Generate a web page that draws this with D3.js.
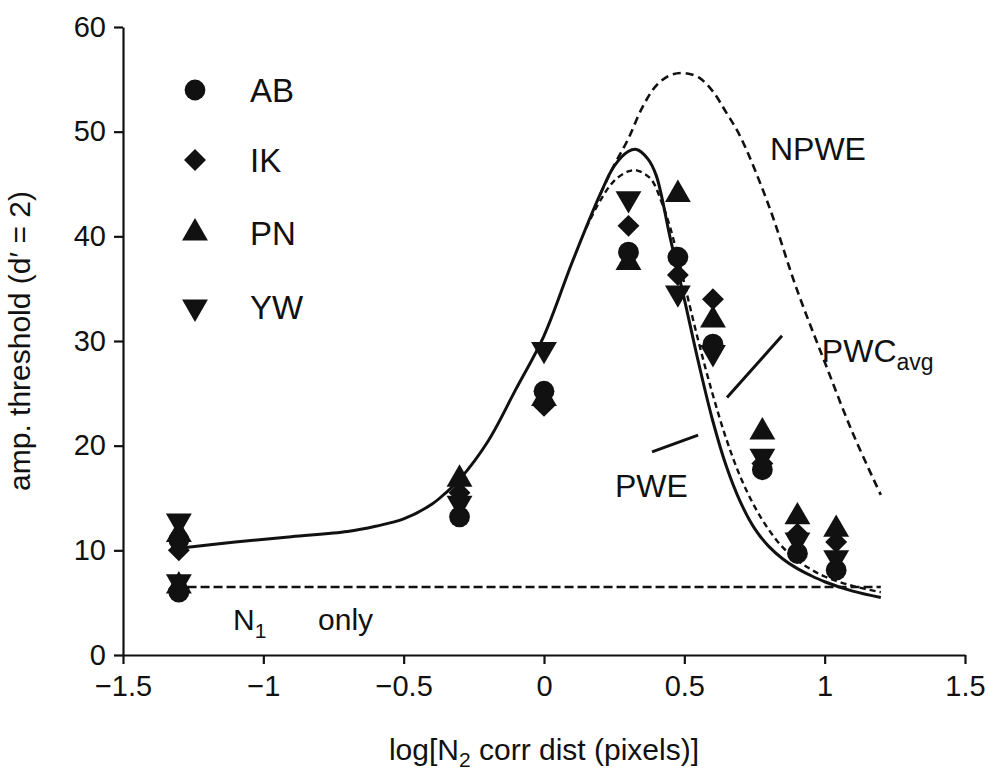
<!DOCTYPE html>
<html>
<head>
<meta charset="utf-8">
<script src="https://cdn.jsdelivr.net/npm/d3@7"></script>
<style>
  html, body { margin: 0; padding: 0; background: #fff; }
  svg { display: block; }
  text { font-family: "Liberation Sans", Arial, sans-serif; fill: #111; }
</style>
</head>
<body>
<svg id="chart" width="988" height="782"></svg>
<script>
// ---------- data ----------
const xPositions = [-1.301, -0.301, 0, 0.301, 0.477, 0.602, 0.778, 0.903, 1.041];
const seriesNames = ["AB", "IK", "PN", "YW"];
const abValues = [11.0, 13.2, 25.2, 38.5, 38.0, 29.7, 17.7, 9.7, 8.1];
const ikValues = [10.0, 15.5, 23.8, 41.0, 36.3, 34.0, 18.3, 11.6, 10.8];
const pnValues = [11.5, 16.8, 24.5, 37.5, 44.0, 32.0, 21.3, 13.2, 12.0];
const ywValues = [12.8, 14.5, 29.2, 43.6, 34.6, 28.9, 19.0, 11.0, 9.3];
// N1-only measurements (at the smallest correlation distance)
const n1OnlyX = -1.301;
const n1OnlyValues = [6.0, 6.3, 6.6, 7.0]; // AB, IK, PN, YW
const n1OnlyLevel = 6.5;
const n1LineRange = [-1.27, 1.2];

// model curves
const pweX = [-1.3, -1.1, -0.9, -0.7, -0.6, -0.5, -0.4, -0.35, -0.3, -0.2, -0.1, 0, 0.1, 0.2, 0.25, 0.3, 0.33, 0.37, 0.4, 0.45, 0.5, 0.55, 0.6, 0.65, 0.7, 0.75, 0.8, 0.85, 0.9, 0.95, 1.0, 1.1, 1.2];
const pweY = [10.2, 10.8, 11.3, 11.8, 12.3, 13.0, 14.4, 15.5, 16.8, 20.4, 25.4, 30.5, 37.5, 44.0, 46.7, 48.1, 48.3, 47.4, 45.8, 39.8, 34.0, 28.0, 22.5, 18.0, 14.6, 12.1, 10.4, 9.2, 8.3, 7.6, 7.0, 6.1, 5.5];
const pwcX = [0.15, 0.2, 0.25, 0.3, 0.33, 0.38, 0.42, 0.45, 0.5, 0.55, 0.6, 0.65, 0.7, 0.75, 0.8, 0.85, 0.9, 0.95, 1.0, 1.1, 1.2];
const pwcY = [40.8, 43.4, 45.3, 46.2, 46.3, 45.5, 43.2, 40.8, 35.5, 30.0, 25.0, 20.6, 17.0, 14.2, 12.0, 10.3, 9.1, 8.2, 7.5, 6.6, 6.0];
const npweX = [0.2, 0.25, 0.3, 0.35, 0.4, 0.45, 0.5, 0.55, 0.6, 0.65, 0.7, 0.8, 0.9, 1.0, 1.1, 1.2];
const npweY = [44.0, 46.8, 49.3, 52.3, 54.4, 55.4, 55.6, 55.2, 53.9, 51.8, 49.5, 43.0, 35.0, 28.0, 21.2, 15.3];

const xTicks = [-1.5, -1, -0.5, 0, 0.5, 1, 1.5];
const yTicks = [0, 10, 20, 30, 40, 50, 60];

// ---------- layout ----------
const svg = d3.select("#chart");
const x = d3.scaleLinear().domain([-1.5, 1.5]).range([123, 965]);
const y = d3.scaleLinear().domain([0, 60]).range([655, 27]);

const fmtX = v => (v < 0 ? "\u2212" : "") + Math.abs(v);

// axes
const xAxis = d3.axisBottom(x).tickValues(xTicks).tickFormat(fmtX).tickSizeInner(9).tickSizeOuter(0).tickPadding(11);
const yAxis = d3.axisLeft(y).tickValues(yTicks).tickFormat(d3.format("d")).tickSizeInner(9).tickSizeOuter(0).tickPadding(8);

const gx = svg.append("g").attr("transform", `translate(0,${y(0)})`).call(xAxis);
const gy = svg.append("g").attr("transform", `translate(${x(-1.5)},0)`).call(yAxis);
[gx, gy].forEach(g => {
  g.select(".domain").attr("stroke", "#111").attr("stroke-width", 2.2);
  g.selectAll(".tick line").attr("stroke", "#111").attr("stroke-width", 2.2);
  g.selectAll(".tick text").attr("font-size", 29).attr("font-family", "Liberation Sans, Arial, sans-serif").attr("fill", "#111");
});

// axis titles
const xt = svg.append("text").attr("x", x(0)).attr("y", 760).attr("text-anchor", "middle").attr("font-size", 30);
xt.append("tspan").text("log[N");
xt.append("tspan").attr("font-size", 21).attr("dy", 7).text("2");
xt.append("tspan").attr("dy", -7).text(" corr dist (pixels)]");

svg.append("text").attr("transform", `translate(30,${y(30)}) rotate(-90)`)
  .attr("text-anchor", "middle").attr("font-size", 30).text("amp. threshold (d\u2032 = 2)");

// ---------- curves ----------
const line = d3.line().x(d => x(d[0])).y(d => y(d[1])).curve(d3.curveCatmullRom.alpha(0.5));

svg.append("path").datum(npweX.map((v, i) => [v, npweY[i]]))
  .attr("d", line).attr("fill", "none").attr("stroke", "#111").attr("stroke-width", 2.6).attr("stroke-dasharray", "8,5");
svg.append("path").datum(pwcX.map((v, i) => [v, pwcY[i]]))
  .attr("d", line).attr("fill", "none").attr("stroke", "#111").attr("stroke-width", 2.4).attr("stroke-dasharray", "6,4");
svg.append("path").datum(pweX.map((v, i) => [v, pweY[i]]))
  .attr("d", line).attr("fill", "none").attr("stroke", "#111").attr("stroke-width", 3);

// N1-only level
svg.append("line")
  .attr("x1", x(n1LineRange[0])).attr("x2", x(n1LineRange[1]))
  .attr("y1", y(n1OnlyLevel)).attr("y2", y(n1OnlyLevel))
  .attr("stroke", "#111").attr("stroke-width", 2.6).attr("stroke-dasharray", "9,4");

// ---------- markers ----------
const symbolFor = {
  AB: { type: d3.symbolCircle, size: 340, rot: 0 },
  IK: { type: d3.symbolSquare, size: 240, rot: 45 },
  PN: { type: d3.symbolTriangle, size: 290, rot: 0 },
  YW: { type: d3.symbolTriangle, size: 290, rot: 180 }
};
const allValues = { AB: abValues, IK: ikValues, PN: pnValues, YW: ywValues };
const pts = [];
seriesNames.forEach((name, si) => {
  allValues[name].forEach((v, i) => pts.push({ name, x: xPositions[i], y: v }));
  pts.push({ name, x: n1OnlyX, y: n1OnlyValues[si] });
});
svg.append("g").selectAll("path").data(pts).join("path")
  .attr("d", d => d3.symbol().type(symbolFor[d.name].type).size(symbolFor[d.name].size)())
  .attr("transform", d => `translate(${x(d.x)},${y(d.y)}) rotate(${symbolFor[d.name].rot})`)
  .attr("fill", "#111");

// ---------- legend ----------
const legendY = [90, 160, 233, 307];
const lg = svg.append("g");
seriesNames.forEach((name, i) => {
  lg.append("path")
    .attr("d", d3.symbol().type(symbolFor[name].type).size(symbolFor[name].size)())
    .attr("transform", `translate(195,${legendY[i]}) rotate(${symbolFor[name].rot})`)
    .attr("fill", "#111");
  lg.append("text").attr("x", 250).attr("y", legendY[i] + 12).attr("font-size", 33).text(name);
});

// ---------- annotations ----------
svg.append("text").attr("x", x(0.805)).attr("y", y(47.3)).attr("font-size", 32).text("NPWE");

const pwcLabel = svg.append("text").attr("x", x(0.99)).attr("y", y(28)).attr("font-size", 32);
pwcLabel.append("tspan").text("PWC");
pwcLabel.append("tspan").attr("font-size", 23).attr("dy", 8).text("avg");
svg.append("line").attr("x1", x(0.652)).attr("y1", y(24.6)).attr("x2", x(0.848)).attr("y2", y(30.5))
  .attr("stroke", "#111").attr("stroke-width", 3);

svg.append("text").attr("x", x(0.253)).attr("y", y(15.1)).attr("font-size", 32).text("PWE");
svg.append("line").attr("x1", x(0.385)).attr("y1", y(19.4)).attr("x2", x(0.549)).attr("y2", y(21.0))
  .attr("stroke", "#111").attr("stroke-width", 3);

const n1 = svg.append("text").attr("x", x(-1.108)).attr("y", y(2.4)).attr("font-size", 30);
n1.append("tspan").text("N");
n1.append("tspan").attr("font-size", 21).attr("dy", 8).text("1");
svg.append("text").attr("x", x(-0.805)).attr("y", y(2.4)).attr("font-size", 30).text("only");
</script>
</body>
</html>
